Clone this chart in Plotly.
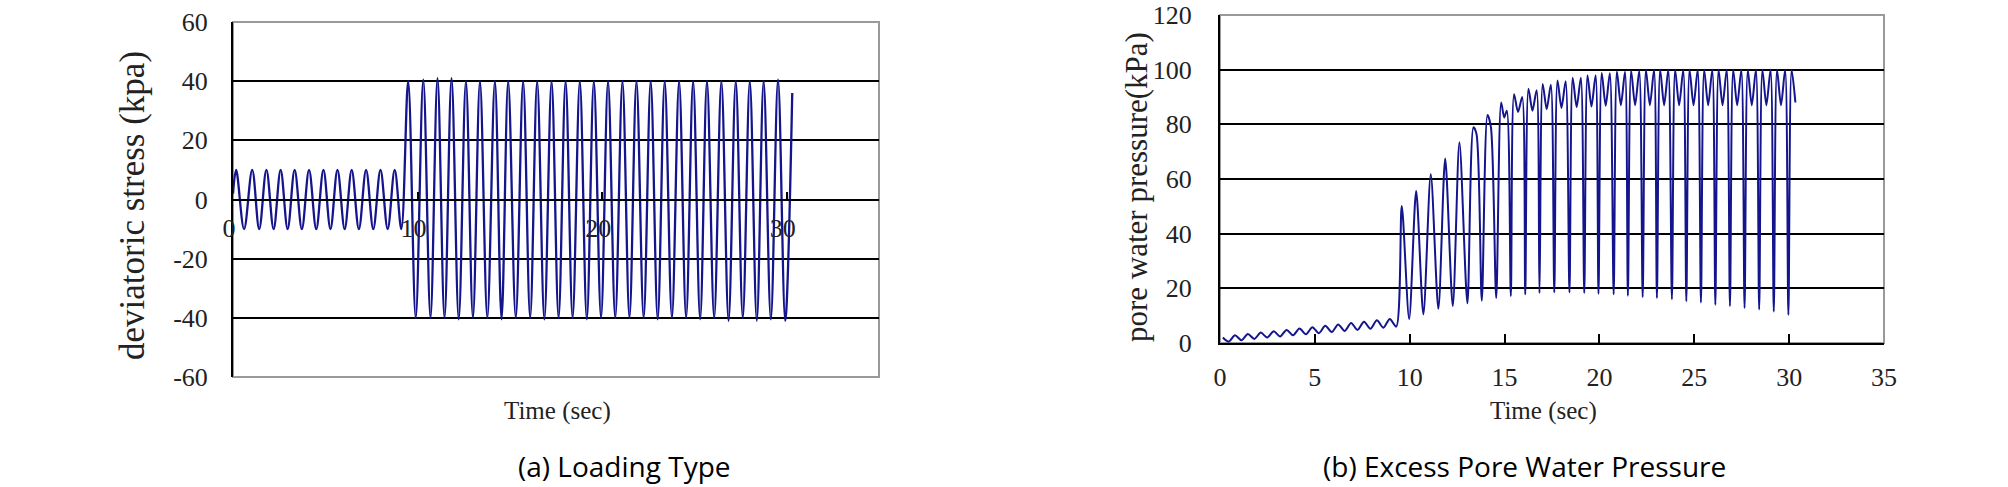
import plotly.graph_objects as go

# (a) loading type: peaks / troughs of the deviatoric stress record (sec, kPa)
load_t = [0.0, 0.17, 0.6, 1.04, 1.42, 1.81, 2.2, 2.58, 2.96, 3.34, 3.73, 4.12, 4.51,
          4.9, 5.28, 5.66, 6.05, 6.43, 6.82, 7.21, 7.6, 7.99, 8.38, 8.76, 9.12,
          9.49, 9.9, 10.31, 10.7, 11.08, 11.46, 11.84, 12.23, 12.62, 13.0, 13.38, 13.78,
          14.19, 14.55, 14.91, 15.32, 15.72, 16.1, 16.48, 16.87, 17.26, 17.64, 18.02, 18.4,
          18.79, 19.17, 19.55, 19.94, 20.32, 20.71, 21.1, 21.48, 21.86, 22.25, 22.63, 23.01,
          23.39, 23.78, 24.17, 24.55, 24.93, 25.31, 25.68, 26.07, 26.46, 26.85, 27.24, 27.62,
          28.0, 28.38, 28.75, 29.14, 29.53, 29.92, 30.3]
load_v = [2, 10, -10, 10, -10, 10, -10, 10, -10, 10, -10, 10, -10,
          10, -10, 10, -10, 10, -10, 10, -10, 10, -10, 10, -10,
          40, -40, 40.5, -40, 41, -40, 41, -40.5, 40, -40, 40, -40,
          40, -40.5, 40, -40, 40, -40, 40, -40.5, 40, -40, 40, -40,
          40, -40.5, 40, -40, 40, -40, 40, -40, 40, -40, 40, -40.5,
          40, -40, 40, -40, 40, -40.5, 40, -40, 40, -41, 40, -40,
          40, -41, 40, -40.5, 40.5, -41, 36]

# (b) excess pore water pressure: peaks / dips / troughs (sec, kPa)
pwp_t = [0.15, 0.45, 0.79, 1.13, 1.47, 1.81, 2.15, 2.49, 2.83, 3.17, 3.51, 3.85, 4.19,
         4.53, 4.87, 5.21, 5.55, 5.89, 6.23, 6.57, 6.91, 7.25, 7.59, 7.93, 8.27, 8.61,
         8.95, 9.29,
         9.58, 9.97, 10.34, 10.72, 11.11, 11.51, 11.87, 12.27, 12.62, 13.04,
         13.36, 13.52, 13.8, 14.1, 14.28, 14.56, 14.82, 14.98, 15.12, 15.33,
         15.5, 15.71, 15.93, 16.09, 16.26, 16.47, 16.69, 16.84,
         17.01, 17.22, 17.44, 17.62, 17.79, 18.0, 18.22, 18.42,
         18.59, 18.8, 19.02, 19.2, 19.37, 19.58, 19.8, 19.95,
         20.12, 20.33, 20.55, 20.75, 20.92, 21.13, 21.35, 21.5,
         21.67, 21.88, 22.1, 22.28, 22.45, 22.66, 22.88, 23.03,
         23.2, 23.41, 23.63, 23.82, 23.99, 24.2, 24.42, 24.58,
         24.75, 24.96, 25.18, 25.35, 25.52, 25.73, 25.95, 26.11,
         26.28, 26.49, 26.71, 26.88, 27.05, 27.26, 27.48, 27.65,
         27.82, 28.03, 28.25, 28.42, 28.59, 28.8, 29.02, 29.19,
         29.36, 29.57, 29.79, 29.96, 30.13, 30.33]
pwp_v = [2.0, 0.5, 2.8, 1.0, 3.3, 1.5, 3.8, 2.0, 4.3, 2.4, 4.8, 2.8, 5.3,
         3.2, 5.8, 3.6, 6.3, 4.0, 6.8, 4.4, 7.3, 4.8, 7.8, 5.2, 8.3, 5.6,
         8.8, 6.0,
         50.1, 8.8, 55.6, 10.5, 61.7, 12.5, 67.5, 13.5, 73.4, 14.5,
         78.9, 76.5, 15.5, 83.4, 79.0, 16.5, 88.0, 82.5, 85.0, 17.2,
         91.0, 84.5, 90.0, 17.8, 93.0, 85.0, 92.5, 18.2,
         94.8, 85.5, 94.5, 18.5, 96.0, 86.0, 95.8, 18.5,
         97.0, 86.3, 97.0, 18.3, 98.0, 86.5, 98.0, 18.0,
         98.8, 86.8, 98.7, 17.8, 99.3, 87.0, 99.2, 17.3,
         99.6, 87.0, 99.6, 16.8, 100, 87.0, 100, 16.5,
         100, 87.0, 100, 16.0, 100, 87.0, 100, 15.3,
         100, 87.0, 100, 14.8, 100, 87.0, 100, 14.0,
         100, 87.0, 100, 13.5, 100, 87.0, 100, 12.8,
         100, 87.0, 100, 12.3, 100, 87.0, 100, 11.5,
         100, 87.0, 100, 10.3, 100, 88.0]

load_xticks = [0, 10, 20, 30]
load_yticks = [-60, -40, -20, 0, 20, 40, 60]
load_ylabels = ["-60", "-40", "-20", "0", "20", "40", "60"]
pwp_xticks = [0, 5, 10, 15, 20, 25, 30, 35]
pwp_yticks = [0, 20, 40, 60, 80, 100, 120]

W, H = 2008, 487
LINE = "#14148c"
SERIF = "Liberation Serif, Times New Roman, serif"
SANS = "Open Sans, Noto Sans, sans-serif"

def px(x):
    return x / W

def py(y):
    return 1 - y / H

fig = go.Figure()
fig.add_trace(go.Scatter(x=load_t, y=load_v, mode="lines", xaxis="x", yaxis="y",
                         line=dict(color=LINE, width=2.3, shape="spline", smoothing=1.0),
                         showlegend=False, hoverinfo="skip"))
fig.add_trace(go.Scatter(x=pwp_t, y=pwp_v, mode="lines", xaxis="x2", yaxis="y2",
                         line=dict(color=LINE, width=2, shape="spline", smoothing=0.8),
                         showlegend=False, hoverinfo="skip"))

tick_font = dict(family=SERIF, size=26, color="#222")
ydom1 = [py(377), py(22)]
ydom2 = [py(343), py(15)]

axis_common = dict(showgrid=False, zeroline=False, ticks="inside", tickcolor="black",
                   tickwidth=2, tickfont=tick_font, showline=True, linecolor="black",
                   linewidth=2, fixedrange=True, automargin=False)

fig.update_layout(
    width=W, height=H,
    margin=dict(l=0, r=0, t=0, b=0, pad=0),
    paper_bgcolor="white", plot_bgcolor="rgba(0,0,0,0)",
    xaxis=dict(axis_common, domain=[px(233), px(879)], range=[0, 35],
               tickvals=load_xticks, ticklen=7, anchor="free",
               position=(ydom1[0] + ydom1[1]) / 2, ticklabelstandoff=5,
               ticklabelshift=-4),
    yaxis=dict(axis_common, domain=ydom1, range=[-60, 60], tickvals=load_yticks,
               ticktext=load_ylabels, ticklen=9, anchor="x", showgrid=True,
               gridcolor="black", gridwidth=2, ticklabelstandoff=18),
    xaxis2=dict(axis_common, domain=[px(1220), px(1884)], range=[0, 35],
                tickvals=pwp_xticks, ticklen=9, anchor="y2", ticklabelstandoff=10),
    yaxis2=dict(axis_common, domain=ydom2, range=[0, 120], tickvals=pwp_yticks,
                ticklen=9, anchor="x2", showgrid=True, gridcolor="black", gridwidth=2,
                ticklabelstandoff=21),
)

# grey frame around both plot areas
for xr, yr in [("x domain", "y domain"), ("x2 domain", "y2 domain")]:
    fig.add_shape(type="rect", xref=xr, yref=yr, x0=0, x1=1, y0=0, y1=1,
                  line=dict(color="#9a9a9a", width=2), layer="below")

cap_font = dict(family=SANS, size=28, color="black")
notes = [
    dict(text="deviatoric stress (kpa)", x=px(133), y=py(206), textangle=-90,
         font=dict(family=SERIF, size=35, color="#222")),
    dict(text="pore water pressure(kPa)", x=px(1136), y=py(187), textangle=-90,
         font=dict(family=SERIF, size=31, color="#222")),
    dict(text="Time (sec)", x=px(557), y=py(411), font=dict(family=SERIF, size=25, color="#222")),
    dict(text="Time (sec)", x=px(1543), y=py(411), font=dict(family=SERIF, size=25, color="#222")),
    dict(text="(a) Loading Type", x=px(624), y=py(466), font=cap_font),
    dict(text="(b) Excess Pore Water Pressure", x=px(1524), y=py(466), font=cap_font),
]
for n in notes:
    fig.add_annotation(xref="paper", yref="paper", showarrow=False,
                       xanchor="center", yanchor="middle", **n)

# drop the default page margin so the figure fills the window exactly
fig.write_html("out.html", config={"displayModeBar": False},
               post_script="document.body.style.margin = '0';")
